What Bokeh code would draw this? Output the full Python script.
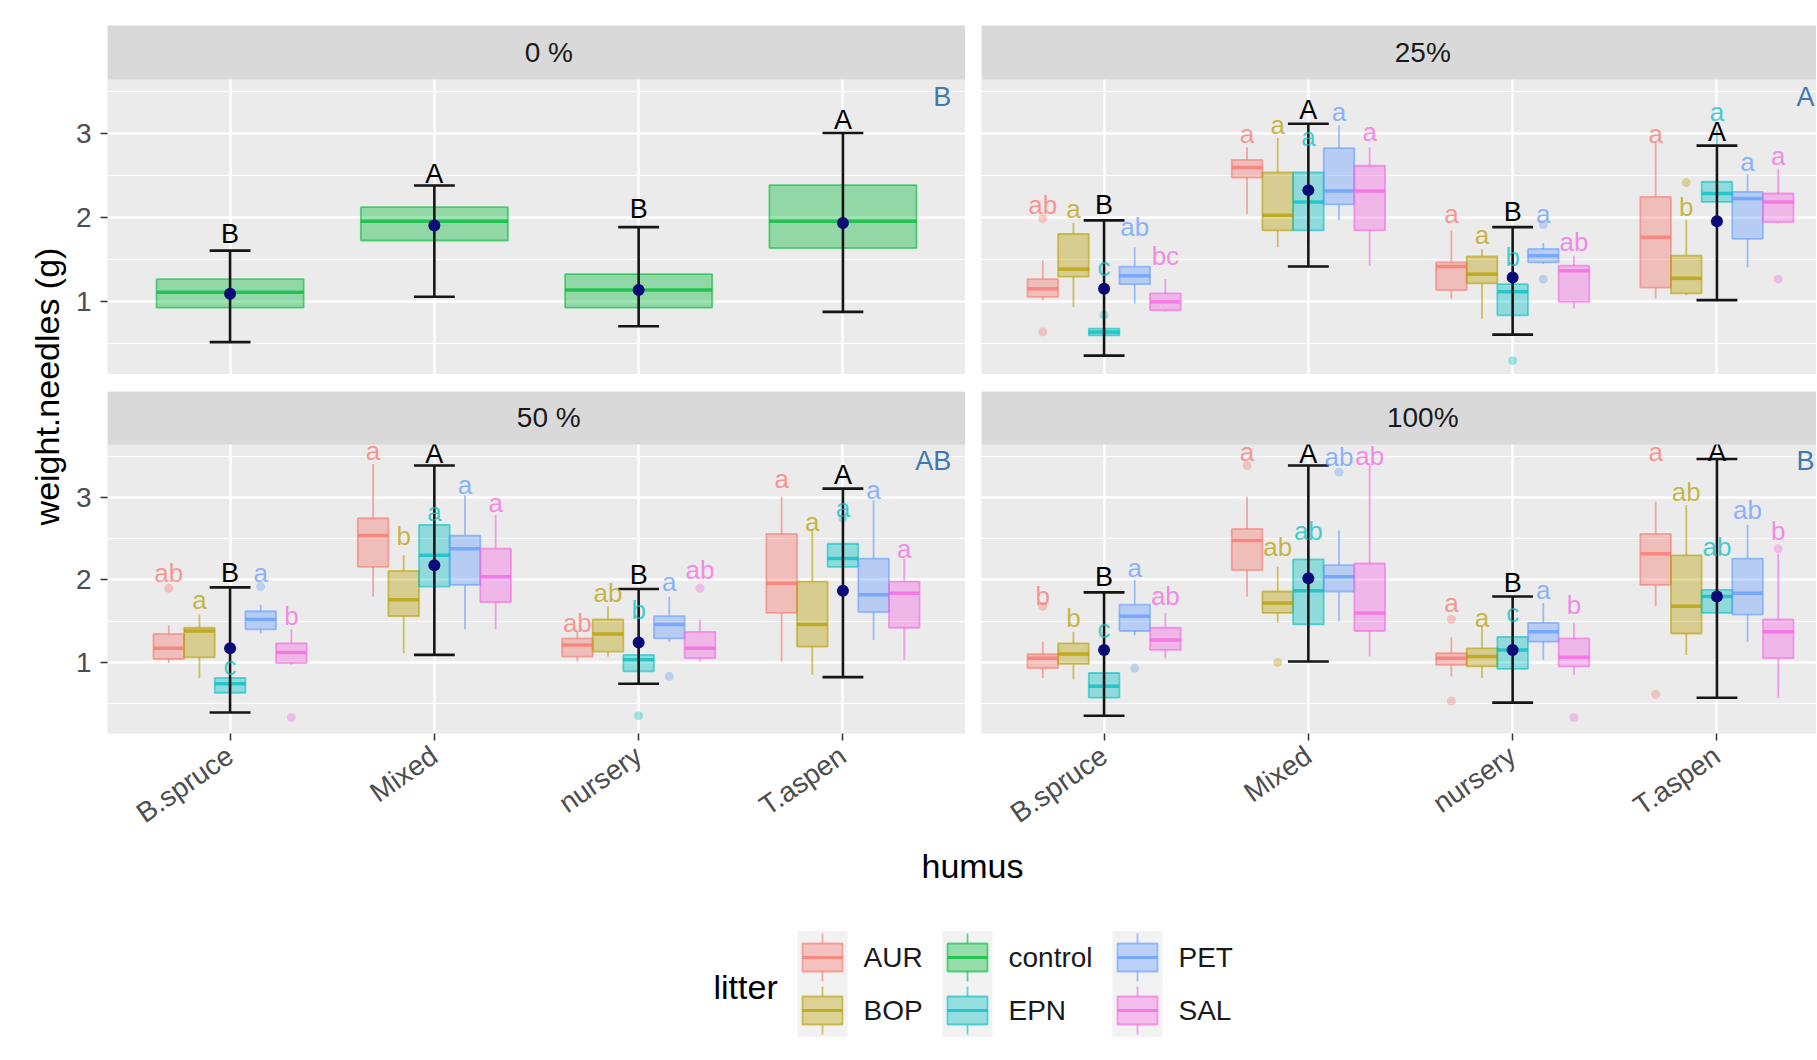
import math
from bokeh.plotting import figure
from bokeh.models import (ColumnDataSource, Range1d, LinearAxis, FixedTicker, Grid,
                          BoxAnnotation, Label)
from bokeh.layouts import row, column
from bokeh.core.properties import value
from bokeh.embed import file_html
from bokeh.resources import INLINE

FONT = "Liberation Sans"

# ------------------------------------------------------------------ data
treatments = ["0 %", "25%", "50 %", "100%"]
humus = ["B.spruce", "Mixed", "nursery", "T.aspen"]
litter_levels = ["AUR", "BOP", "control", "EPN", "PET", "SAL"]
litter_colors = ["#F8766D", "#B79F00", "#00BA38", "#00BFC4", "#619CFF", "#F564E3"]
treated_litter = ["AUR", "BOP", "EPN", "PET", "SAL"]
panel_letters = ["B", "A", "AB", "B"]

# control boxes (0 % panel), per humus
ctrl_q1 = [0.93, 1.73, 0.93, 1.64]
ctrl_med = [1.115, 1.96, 1.14, 1.96]
ctrl_q3 = [1.27, 2.127, 1.33, 2.39]

# control error bars and means, per treatment x humus
err_lo = [[0.52, 1.06, 0.71, 0.88], [0.36, 1.42, 0.61, 1.02],
          [0.39, 1.09, 0.74, 0.82], [0.35, 1.01, 0.51, 0.57]]
err_hi = [[1.61, 2.385, 1.89, 3.01], [1.97, 3.12, 1.89, 2.86],
          [1.91, 3.39, 1.89, 3.11], [1.85, 3.39, 1.80, 3.47]]
err_mean = [[1.095, 1.91, 1.14, 1.94], [1.155, 2.33, 1.29, 1.96],
            [1.17, 2.18, 1.24, 1.87], [1.15, 2.02, 1.15, 1.80]]
ctrl_letters = [["B", "A", "B", "A"], ["B", "A", "B", "A"],
                ["B", "A", "B", "A"], ["B", "A", "B", "A"]]
ctrl_letter_y = [[1.81, 2.52, 2.10, 3.17], [2.15, 3.28, 2.07, 3.02],
                 [2.08, 3.53, 2.06, 3.27], [2.04, 3.53, 1.96, 3.55]]

# boxes per treatment: rows = AUR, BOP, EPN, PET, SAL ; cols = humus
lo_25 = [[1.02, 2.05, 1.04, 1.04], [0.94, 1.65, 0.80, 1.08], [0.52, 1.70, 0.62, 2.05],
         [0.98, 1.97, 1.45, 1.41], [0.88, 1.43, 0.92, 1.93]]
q1_25 = [[1.06, 2.48, 1.14, 1.17], [1.30, 1.85, 1.22, 1.10], [0.60, 1.85, 0.84, 2.19],
         [1.21, 2.16, 1.47, 1.75], [0.90, 1.85, 1.00, 1.95]]
med_25 = [[1.155, 2.60, 1.42, 1.77], [1.39, 2.03, 1.33, 1.28], [0.64, 2.19, 1.12, 2.29],
          [1.31, 2.32, 1.55, 2.23], [1.00, 2.32, 1.37, 2.19]]
q3_25 = [[1.27, 2.69, 1.47, 2.25], [1.81, 2.54, 1.54, 1.55], [0.68, 2.54, 1.21, 2.43],
         [1.42, 2.83, 1.63, 2.31], [1.10, 2.62, 1.43, 2.29]]
hi_25 = [[1.49, 2.84, 1.85, 2.90], [1.94, 2.95, 1.63, 1.97], [0.72, 2.80, 1.40, 3.05],
         [1.65, 3.10, 1.70, 2.52], [1.27, 2.84, 1.55, 2.58]]
let_25 = [["ab", "a", "a", "a"], ["a", "a", "a", "b"], ["c", "a", "b", "a"],
          ["ab", "a", "a", "a"], ["bc", "a", "ab", "a"]]
let_y_25 = [[2.15, 3.00, 2.05, 3.00], [2.10, 3.10, 1.79, 2.13], [1.41, 2.96, 1.53, 3.26],
            [1.89, 3.26, 2.05, 2.66], [1.55, 3.02, 1.71, 2.74]]

lo_50 = [[0.99, 1.80, 1.01, 1.01], [0.81, 1.11, 1.07, 0.85], [0.45, 1.60, 0.75, 1.80],
         [1.35, 1.40, 1.25, 1.27], [0.97, 1.40, 1.01, 1.03]]
q1_50 = [[1.04, 2.16, 1.07, 1.60], [1.06, 1.56, 1.13, 1.19], [0.63, 1.92, 0.89, 2.16],
         [1.40, 1.94, 1.29, 1.61], [0.99, 1.73, 1.05, 1.42]]
med_50 = [[1.17, 2.54, 1.21, 1.96], [1.38, 1.76, 1.345, 1.46], [0.74, 2.30, 1.03, 2.26],
          [1.52, 2.38, 1.46, 1.82], [1.12, 2.04, 1.17, 1.84]]
q3_50 = [[1.345, 2.75, 1.29, 2.56], [1.42, 2.11, 1.52, 1.98], [0.81, 2.67, 1.09, 2.44],
         [1.62, 2.54, 1.56, 2.26], [1.23, 2.38, 1.37, 1.98]]
hi_50 = [[1.45, 3.41, 1.38, 3.01], [1.58, 2.30, 1.68, 2.62], [0.90, 2.75, 1.30, 2.60],
         [1.70, 3.03, 1.80, 2.97], [1.40, 2.79, 1.52, 2.26]]
let_50 = [["ab", "a", "ab", "a"], ["a", "b", "ab", "a"], ["c", "a", "b", "a"],
          ["a", "a", "a", "a"], ["b", "a", "ab", "a"]]
let_y_50 = [[2.08, 3.57, 1.48, 3.23], [1.76, 2.54, 1.84, 2.71], [0.95, 2.83, 1.64, 2.87],
            [2.08, 3.15, 1.98, 3.09], [1.56, 2.93, 2.12, 2.38]]

lo_100 = [[0.81, 1.80, 0.83, 1.68], [0.79, 1.48, 0.81, 1.09], [0.45, 1.20, 0.70, 1.50],
          [1.33, 1.50, 1.03, 1.25], [1.05, 1.07, 0.85, 0.57]]
q1_100 = [[0.93, 2.12, 0.97, 1.94], [0.98, 1.60, 0.95, 1.35], [0.57, 1.46, 0.92, 1.60],
          [1.38, 1.86, 1.25, 1.58], [1.15, 1.38, 0.95, 1.05]]
med_100 = [[1.05, 2.48, 1.05, 2.32], [1.10, 1.72, 1.07, 1.68], [0.71, 1.87, 1.15, 1.80],
           [1.56, 2.04, 1.37, 1.84], [1.27, 1.60, 1.06, 1.37]]
q3_100 = [[1.10, 2.62, 1.11, 2.56], [1.23, 1.86, 1.17, 2.30], [0.87, 2.25, 1.31, 1.88],
          [1.70, 2.18, 1.48, 2.26], [1.42, 2.20, 1.29, 1.52]]
hi_100 = [[1.25, 3.01, 1.30, 2.95], [1.37, 2.16, 1.44, 2.91], [1.10, 2.40, 1.45, 2.25],
          [2.00, 2.60, 1.72, 2.67], [1.60, 3.41, 1.48, 2.32]]
let_100 = [["b", "a", "a", "a"], ["b", "ab", "a", "ab"], ["c", "ab", "c", "ab"],
           ["a", "ab", "a", "ab"], ["ab", "ab", "b", "b"]]
let_y_100 = [[1.80, 3.56, 1.72, 3.56], [1.54, 2.40, 1.54, 3.07], [1.40, 2.60, 1.60, 2.40],
             [2.14, 3.49, 1.88, 2.85], [1.80, 3.51, 1.70, 2.60]]

# outliers
out_treat = ["25%", "25%", "25%", "25%", "25%", "25%", "25%", "25%",
             "50 %", "50 %", "50 %", "50 %", "50 %", "50 %", "50 %",
             "100%", "100%", "100%", "100%", "100%", "100%", "100%", "100%", "100%", "100%"]
out_humus = ["B.spruce", "B.spruce", "B.spruce", "nursery", "nursery", "nursery", "T.aspen", "T.aspen",
             "B.spruce", "B.spruce", "B.spruce", "nursery", "nursery", "nursery", "T.aspen",
             "B.spruce", "B.spruce", "Mixed", "Mixed", "Mixed", "nursery", "nursery", "nursery",
             "T.aspen", "T.aspen"]
out_litter = ["AUR", "AUR", "EPN", "EPN", "PET", "PET", "BOP", "SAL",
              "AUR", "PET", "SAL", "EPN", "PET", "SAL", "EPN",
              "AUR", "PET", "AUR", "BOP", "PET", "AUR", "AUR", "SAL", "AUR", "SAL"]
out_value = [1.99, 0.64, 0.84, 0.30, 1.27, 1.92, 2.42, 1.27,
             1.90, 1.92, 0.33, 0.35, 0.83, 1.90, 2.75,
             1.68, 0.93, 3.39, 1.00, 3.31, 0.53, 1.52, 0.33, 0.61, 2.38]

stats = {
    "25%": (lo_25, q1_25, med_25, q3_25, hi_25, let_25, let_y_25),
    "50 %": (lo_50, q1_50, med_50, q3_50, hi_50, let_50, let_y_50),
    "100%": (lo_100, q1_100, med_100, q3_100, hi_100, let_100, let_y_100),
}
color_of = dict(zip(litter_levels, litter_colors))

# ------------------------------------------------------------------ geometry (page px)
YLAB_W = 70
LEFT_W, LEFT_BORDER = 895, 37
RIGHT_W, RIGHT_BORDER = 851, 16
TOP_H, TOP_BORDER = 374, 25
BOT_BORDER_TOP, BOT_BORDER_BOTTOM = 17, 104
PANEL_PX, STRIP_PX = 295, 54
BOT_H = BOT_BORDER_TOP + PANEL_PX + STRIP_PX + BOT_BORDER_BOTTOM
LEG_H = 205
Y0, Y1 = 0.135, 3.647
PPU_Y = PANEL_PX / (Y1 - Y0)
STRIP_TOP = Y1 + STRIP_PX / PPU_Y
XL0, XL1 = 0.4, 4.6
PPU_X = 858 / (XL1 - XL0)
XR1 = XL0 + (RIGHT_W - RIGHT_BORDER) / PPU_X
DODGE_STEP = 0.15
CTRL_W = 0.72
CAP = 0.1


def make_panel(width, height, bl, bt, bb, x_end):
    p = figure(width=width, height=height, x_range=Range1d(XL0, x_end),
               y_range=Range1d(Y0, STRIP_TOP), x_axis_type=None, y_axis_type=None,
               toolbar_location=None, output_backend="svg",
               min_border_left=bl, min_border_right=0, min_border_top=bt, min_border_bottom=bb,
               background_fill_color="#EBEBEB", border_fill_color="white",
               outline_line_color=None)
    p.add_layout(Grid(dimension=0, ticker=FixedTicker(ticks=[1, 2, 3, 4]),
                      grid_line_color="white", grid_line_width=2.4))
    p.add_layout(Grid(dimension=1, ticker=FixedTicker(ticks=[1, 2, 3],
                                                       minor_ticks=[0.5, 1.5, 2.5, 3.5]),
                      grid_line_color="white", grid_line_width=2.4,
                      minor_grid_line_color="white", minor_grid_line_width=1.2))
    return p


def add_yaxis(p):
    ax = LinearAxis(ticker=FixedTicker(ticks=[1, 2, 3]), axis_line_color=None,
                    major_tick_out=7, major_tick_in=0, minor_tick_line_color=None,
                    major_tick_line_color="#333333", major_tick_line_width=1.5,
                    major_label_standoff=9, major_label_text_font=FONT,
                    major_label_text_font_size="28px", major_label_text_color="#4D4D4D")
    p.add_layout(ax, "left")


def add_xaxis(p):
    ax = LinearAxis(ticker=FixedTicker(ticks=[1, 2, 3, 4]),
                    major_label_overrides={i + 1: h for i, h in enumerate(humus)},
                    major_label_orientation=math.radians(35), axis_line_color=None,
                    major_tick_out=7, major_tick_in=0, minor_tick_line_color=None,
                    major_tick_line_color="#333333", major_tick_line_width=1.5,
                    major_label_standoff=12, major_label_text_font=FONT,
                    major_label_text_font_size="28px", major_label_text_color="#4D4D4D")
    p.add_layout(ax, "below")


def draw_panel(p, ti, x_end):
    treat = treatments[ti]
    box = dict(x=[], w=[], lo=[], q1=[], med=[], q3=[], hi=[], color=[])
    lab = dict(x=[], y=[], text=[], color=[])
    if ti == 0:
        for h in range(len(humus)):
            box["x"].append(h + 1)
            box["w"].append(CTRL_W)
            box["lo"].append(ctrl_q1[h])
            box["q1"].append(ctrl_q1[h])
            box["med"].append(ctrl_med[h])
            box["q3"].append(ctrl_q3[h])
            box["hi"].append(ctrl_q3[h])
            box["color"].append(color_of["control"])
    else:
        lo, q1, med, q3, hi, lets, lety = stats[treat]
        for li, lit in enumerate(treated_litter):
            for h in range(len(humus)):
                x = h + 1 + (li - 2) * DODGE_STEP
                box["x"].append(x)
                box["w"].append(DODGE_STEP)
                box["lo"].append(lo[li][h])
                box["q1"].append(q1[li][h])
                box["med"].append(med[li][h])
                box["q3"].append(q3[li][h])
                box["hi"].append(hi[li][h])
                box["color"].append(color_of[lit])
                lab["x"].append(x)
                lab["y"].append(lety[li][h])
                lab["text"].append(lets[li][h])
                lab["color"].append(color_of[lit])
    box["x0"] = [x - w / 2 for x, w in zip(box["x"], box["w"])]
    box["x1"] = [x + w / 2 for x, w in zip(box["x"], box["w"])]
    src = ColumnDataSource(box)
    p.segment(x0="x", y0="q3", x1="x", y1="hi", source=src, line_color="color",
              line_alpha=0.6, line_width=1.8)
    p.segment(x0="x", y0="q1", x1="x", y1="lo", source=src, line_color="color",
              line_alpha=0.6, line_width=1.8)
    p.vbar(x="x", width="w", bottom="q1", top="q3", source=src, fill_color="color",
           fill_alpha=0.38, line_color="color", line_alpha=0.6, line_width=1.8)
    p.segment(x0="x0", y0="med", x1="x1", y1="med", source=src, line_color="color",
              line_alpha=0.75, line_width=3.5)

    # outliers
    ox, oy, oc = [], [], []
    for t, h, l, v in zip(out_treat, out_humus, out_litter, out_value):
        if t != treat:
            continue
        li = treated_litter.index(l)
        ox.append(humus.index(h) + 1 + (li - 2) * DODGE_STEP)
        oy.append(v)
        oc.append(color_of[l])
    if ox:
        p.scatter(x="x", y="y", source=ColumnDataSource(dict(x=ox, y=oy, c=oc)),
                  size=9, fill_color="c", fill_alpha=0.35, line_color=None)

    # control error bars + means
    ex = [h + 1 for h in range(len(humus))]
    esrc = ColumnDataSource(dict(x=ex, x0=[x - CAP for x in ex], x1=[x + CAP for x in ex],
                                 lo=err_lo[ti], hi=err_hi[ti], mean=err_mean[ti],
                                 lt=ctrl_letters[ti], ly=ctrl_letter_y[ti]))
    p.segment(x0="x", y0="lo", x1="x", y1="hi", source=esrc, line_color="#151515", line_width=2.6)
    p.segment(x0="x0", y0="lo", x1="x1", y1="lo", source=esrc, line_color="#151515", line_width=2.6)
    p.segment(x0="x0", y0="hi", x1="x1", y1="hi", source=esrc, line_color="#151515", line_width=2.6)
    p.scatter(x="x", y="mean", source=esrc, size=12, fill_color="#0B0B78", line_color=None)

    # letters
    if lab["x"]:
        p.text(x="x", y="y", text="text", source=ColumnDataSource(lab), text_color="color",
               text_alpha=0.72, text_align="center", text_baseline="middle",
               text_font=value(FONT), text_font_size="26px")
    p.text(x="x", y="ly", text="lt", source=esrc, text_color="#000000",
           text_align="center", text_baseline="middle",
           text_font=value(FONT), text_font_size="27px")

    # panel letter (right-aligned near the panel's right edge, kept inside the view)
    p.add_layout(Label(x=min(XL1 - 0.07, x_end - 0.01), y=3.44, text=panel_letters[ti],
                       text_align="right", text_baseline="middle", text_font=FONT,
                       text_font_size="27px", text_color="#3E78B2"))
    # strip
    p.add_layout(BoxAnnotation(bottom=Y1, fill_color="#D9D9D9", fill_alpha=1.0,
                               line_color=None, line_alpha=0))
    p.add_layout(Label(x=(XL0 + XL1) / 2 + 0.06, y=(Y1 + STRIP_TOP) / 2, text=treat,
                       text_align="center", text_baseline="middle", text_font=FONT,
                       text_font_size="28px", text_color="#1A1A1A"))


tl = make_panel(LEFT_W, TOP_H, LEFT_BORDER, TOP_BORDER, 0, XL1)
tr = make_panel(RIGHT_W, TOP_H, RIGHT_BORDER, TOP_BORDER, 0, XR1)
bl = make_panel(LEFT_W, BOT_H, LEFT_BORDER, BOT_BORDER_TOP, BOT_BORDER_BOTTOM, XL1)
br = make_panel(RIGHT_W, BOT_H, RIGHT_BORDER, BOT_BORDER_TOP, BOT_BORDER_BOTTOM, XR1)
add_yaxis(tl)
add_yaxis(bl)
add_xaxis(bl)
add_xaxis(br)
for i, (p, xe) in enumerate([(tl, XL1), (tr, XR1), (bl, XL1), (br, XR1)]):
    draw_panel(p, i, xe)

# y-axis title
YL_H = TOP_H + BOT_H
ylab = figure(width=YLAB_W, height=YL_H, x_range=Range1d(0, YLAB_W),
              y_range=Range1d(0, YL_H), x_axis_type=None, y_axis_type=None,
              toolbar_location=None, output_backend="svg", min_border=0,
              outline_line_color=None, background_fill_color="white",
              border_fill_color="white")
ylab.text(x=[46], y=[YL_H - 386], text=["weight.needles (g)"], angle=math.pi / 2,
          text_align="center", text_baseline="middle", text_font=value(FONT),
          text_font_size="34px", text_color="#000000")

# x-axis title + legend
LEG_TOP = YL_H
LEG_W = YLAB_W + LEFT_W + RIGHT_W
leg = figure(width=LEG_W, height=LEG_H, x_range=Range1d(0, LEG_W), y_range=Range1d(0, LEG_H),
             x_axis_type=None, y_axis_type=None, toolbar_location=None,
             output_backend="svg", min_border=0, outline_line_color=None,
             background_fill_color="white", border_fill_color="white")


def ly(ypage):
    return LEG_TOP + LEG_H - ypage


leg.text(x=[972], y=[ly(865)], text=["humus"], text_align="center", text_baseline="middle",
         text_font=value(FONT), text_font_size="34px", text_color="#000000")
leg.text(x=[713], y=[ly(986)], text=["litter"], text_align="left", text_baseline="middle",
         text_font=value(FONT), text_font_size="34px", text_color="#000000")

col_x = [822, 967, 1137]
row_y = [957, 1010]
kx, ky, kc, kl = [], [], [], []
for i, name in enumerate(litter_levels):
    kx.append(col_x[i // 2])
    ky.append(ly(row_y[i % 2]))
    kc.append(litter_colors[i])
    kl.append(name)
ksrc = ColumnDataSource(dict(x=kx, y=ky, c=kc, t=kl,
                             x0=[x - 20 for x in kx], x1=[x + 20 for x in kx],
                             wt0=[y + 14 for y in ky], wt1=[y + 24 for y in ky],
                             wb0=[y - 14 for y in ky], wb1=[y - 24 for y in ky],
                             tx=[x + 41 for x in kx]))
leg.rect(x="x", y="y", width=50, height=53, source=ksrc, fill_color="#F2F2F2", line_color=None)
leg.segment(x0="x", y0="wt0", x1="x", y1="wt1", source=ksrc, line_color="c", line_alpha=0.6,
            line_width=1.8)
leg.segment(x0="x", y0="wb0", x1="x", y1="wb1", source=ksrc, line_color="c", line_alpha=0.6,
            line_width=1.8)
leg.rect(x="x", y="y", width=40, height=28, source=ksrc, fill_color="c", fill_alpha=0.38,
         line_color="c", line_alpha=0.6, line_width=1.8)
leg.segment(x0="x0", y0="y", x1="x1", y1="y", source=ksrc, line_color="c", line_alpha=0.75,
            line_width=3)
leg.text(x="tx", y="y", text="t", source=ksrc, text_align="left", text_baseline="middle",
         text_font=value(FONT), text_font_size="28px", text_color="#1A1A1A")

layout = column(row(ylab, column(row(tl, tr), row(bl, br))), leg)
open("out.html", "w").write(file_html(layout, INLINE))
